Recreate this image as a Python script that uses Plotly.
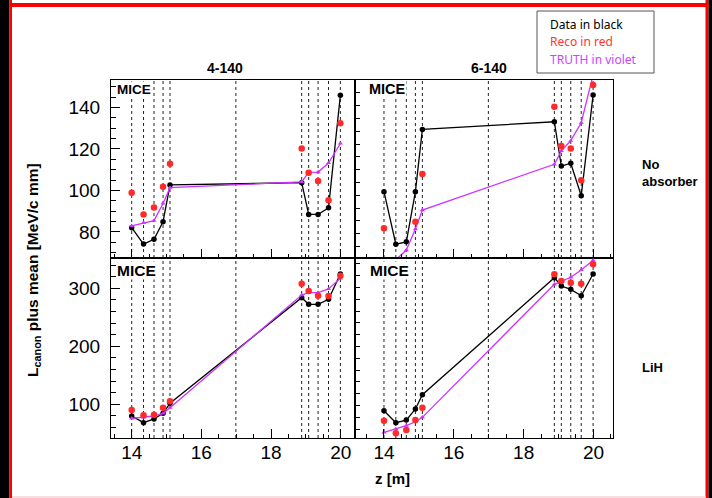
import plotly.graph_objects as go

W, H = 712, 498


def px(x):
    return x / W


def py(y):
    return 1 - y / H


# ---------------- data ----------------
z = [14.00, 14.34, 14.64, 14.90, 15.10, 18.88, 19.08, 19.35, 19.65, 19.99]
stations = [14.00, 14.34, 14.64, 14.90, 15.10, 16.99, 18.88, 19.08, 19.35, 19.65, 19.99]

# No absorber, 4-140
na4_data = [82.0, 74.1, 76.4, 84.9, 102.6, 103.7, 88.4, 88.4, 91.6, 145.9]
na4_reco = [98.8, 88.4, 91.8, 101.7, 112.8, 120.2, 108.5, 104.5, 95.2, 132.3]
na4_truth = [82.9, 84.4, 85.4, 93.7, 101.3, 104.1, 108.7, 108.8, 113.2, 122.6]

# No absorber, 6-140
na6_data = [111.4, 90.9, 91.8, 111.4, 135.7, 138.7, 121.4, 122.5, 109.8, 149.1]
na6_reco = [97.1, 80.0, 82.0, 99.7, 118.3, 144.6, 129.2, 128.3, 115.9, 153.0]
na6_truth = [80.5, 84.9, 88.6, 96.8, 104.2, 122.1, 127.3, 131.3, 138.3, 157.0]

# LiH, 4-140
li4_data = [79.8, 68.3, 74.7, 84.5, 101.7, 283.8, 272.4, 272.4, 281.0, 324.7]
li4_reco = [90.2, 81.0, 82.1, 94.2, 105.2, 308.0, 295.3, 287.3, 286.7, 321.7]
li4_truth = [75.9, 77.6, 79.8, 84.5, 94.2, 288.4, 292.4, 292.4, 298.8, 317.2]

# LiH, 6-140
li6_data = [111.2, 90.9, 95.4, 114.1, 138.3, 336.6, 322.5, 316.9, 306.1, 342.9]
li6_reco = [94.2, 72.9, 78.5, 95.4, 116.3, 342.4, 331.0, 328.1, 326.4, 359.3]
li6_truth = [74.6, 80.2, 85.8, 92.5, 100.0, 325.4, 331.0, 337.3, 349.7, 366.1]

panel_titles = ["4-140", "6-140"]
row_labels = ["No<br>absorber", "LiH"]
legend_lines = ["Data in black", "Reco in red", "TRUTH in violet"]

BLACK = "#000000"
RED = "#ff2a2a"
VIOLET = "#cc33ff"
FONT = "Liberation Sans, Arial, sans-serif"

panels = [
    (na4_data, na4_reco, na4_truth, "x", "y"),
    (na6_data, na6_reco, na6_truth, "x2", "y2"),
    (li4_data, li4_reco, li4_truth, "x3", "y3"),
    (li6_data, li6_reco, li6_truth, "x4", "y4"),
]

fig = go.Figure()

for d, r, t, xa, ya in panels:
    fig.add_trace(go.Scatter(x=z, y=d, xaxis=xa, yaxis=ya, mode="lines+markers",
                             line=dict(color=BLACK, width=1.3),
                             marker=dict(color=BLACK, size=5.5, symbol="circle"),
                             showlegend=False))
    fig.add_trace(go.Scatter(x=z, y=t, xaxis=xa, yaxis=ya, mode="lines+markers",
                             line=dict(color=VIOLET, width=1.3),
                             marker=dict(color=VIOLET, size=4.5, symbol="triangle-up"),
                             showlegend=False))
    fig.add_trace(go.Scatter(x=z, y=r, xaxis=xa, yaxis=ya, mode="markers",
                             marker=dict(color=RED, size=6.5, symbol="circle"),
                             showlegend=False))

shapes = []
for xa, ya in [("x", "y"), ("x2", "y2"), ("x3", "y3"), ("x4", "y4")]:
    for s in stations:
        shapes.append(dict(type="line", xref=xa, yref=ya + " domain", x0=s, x1=s, y0=0, y1=1,
                           line=dict(color="#222222", width=1, dash="dot"), layer="below"))

shapes += [
    dict(type="rect", xref="paper", yref="paper", x0=0, x1=px(9.5), y0=0, y1=1,
         fillcolor="#000000", line=dict(width=0)),
    dict(type="rect", xref="paper", yref="paper", x0=px(9.5), x1=px(12), y0=0, y1=1,
         fillcolor="#ff0000", line=dict(width=0)),
    dict(type="rect", xref="paper", yref="paper", x0=px(705.5), x1=px(708.5), y0=0, y1=1,
         fillcolor="#ff0000", line=dict(width=0)),
    dict(type="rect", xref="paper", yref="paper", x0=px(708.5), x1=1, y0=0, y1=1,
         fillcolor="#000000", line=dict(width=0)),
    dict(type="rect", xref="paper", yref="paper", x0=px(9.5), x1=px(708.5), y0=py(7), y1=py(3),
         fillcolor="#ff0000", line=dict(width=0)),
    dict(type="rect", xref="paper", yref="paper", x0=px(12), x1=px(705.5), y0=py(498), y1=py(496),
         fillcolor="#f8dede", line=dict(width=0)),
    dict(type="rect", xref="paper", yref="paper", x0=px(537), x1=px(654), y0=py(73), y1=py(11),
         fillcolor="white", line=dict(color="#555555", width=1)),
]


def note(text, x, y, size, xanchor="center", color="black", family=FONT, angle=0, bg=None):
    d = dict(text=text, x=px(x), y=py(y), xref="paper", yref="paper", xanchor=xanchor,
             yanchor="middle", align="left", showarrow=False, textangle=angle,
             font=dict(family=family, size=size, color=color))
    if bg:
        d["bgcolor"] = bg
        d["borderpad"] = 0
    return d


annotations = [
    note("<b>%s</b>" % panel_titles[0], 225, 68, 14),
    note("<b>%s</b>" % panel_titles[1], 489, 68, 14),
]
for (x0, y0, fs) in [(116, 89, 13.5), (368, 89, 14.5), (116, 270, 15.5), (369, 270, 15.5)]:
    annotations.append(note("<b>MICE</b>", x0, y0, fs, xanchor="left", bg="white"))
annotations.append(note("<b>%s</b>" % row_labels[0], 640, 173, 13, xanchor="left"))
annotations.append(note("<b>%s</b>" % row_labels[1], 640, 367, 13, xanchor="left"))
annotations.append(note("<b>L<sub>canon</sub> plus mean [MeV/c mm]</b>", 33, 270, 15.5, angle=-90))
annotations.append(note("<b>z [m]</b>", 392, 478, 15))
for i, (txt, col) in enumerate(zip(legend_lines, [BLACK, "#ff3333", "#cc44ff"])):
    annotations.append(note(txt, 548, 24 + 17.5 * i, 12, xanchor="left", color=col,
                            family="Noto Sans, Liberation Sans, sans-serif"))

LX = [px(111), px(355)]
RX = [px(355), px(613)]
TY = [py(258), py(80)]
BY = [py(438), py(258)]

common_x = dict(showline=True, linecolor="black", linewidth=1, mirror=True, showgrid=False, zeroline=False,
                ticks="inside", ticklen=9, tickcolor="black", dtick=2, tick0=0,
                minor=dict(ticks="inside", ticklen=4.5, dtick=0.5, tickcolor="black", showgrid=False),
                tickfont=dict(family=FONT, size=19, color="black"), ticklabelstandoff=-3)
common_y = dict(showline=True, linecolor="black", linewidth=1, mirror=True, showgrid=False, zeroline=False,
                ticks="inside", tickcolor="black",
                tickfont=dict(family=FONT, size=19, color="black"), ticklabelstandoff=6)

fig.update_layout(
    width=W, height=H, margin=dict(l=0, r=0, t=0, b=0),
    paper_bgcolor="white", plot_bgcolor="white", showlegend=False,
    xaxis=dict(domain=LX, anchor="y", range=[13.406, 20.41], showticklabels=False, **common_x),
    xaxis2=dict(domain=RX, anchor="y2", range=[13.17, 20.56], showticklabels=False, **common_x),
    xaxis3=dict(domain=LX, anchor="y3", range=[13.406, 20.41], showticklabels=True, **common_x),
    xaxis4=dict(domain=RX, anchor="y4", range=[13.17, 20.56], showticklabels=True, **common_x),
    yaxis=dict(domain=TY, anchor="x", range=[67.4, 153.2], dtick=20, tick0=0, ticklen=9,
               minor=dict(ticks="inside", ticklen=4.5, dtick=5, tickcolor="black", showgrid=False),
               **common_y),
    yaxis2=dict(domain=TY, anchor="x2", range=[85.5, 155], dtick=5, tick0=0, ticklen=5,
                showticklabels=False, **common_y),
    yaxis3=dict(domain=BY, anchor="x3", range=[41.9, 352.2], dtick=100, tick0=0, ticklen=9,
                minor=dict(ticks="inside", ticklen=4.5, dtick=20, tickcolor="black", showgrid=False),
                **common_y),
    yaxis4=dict(domain=BY, anchor="x4", range=[65, 370], dtick=20, tick0=0, ticklen=5,
                showticklabels=False, **common_y),
    shapes=shapes,
    annotations=annotations,
)

fig.write_html("out.html", config={"displayModeBar": False},
               post_script="document.body.style.margin='0px';document.body.style.overflow='hidden';")
